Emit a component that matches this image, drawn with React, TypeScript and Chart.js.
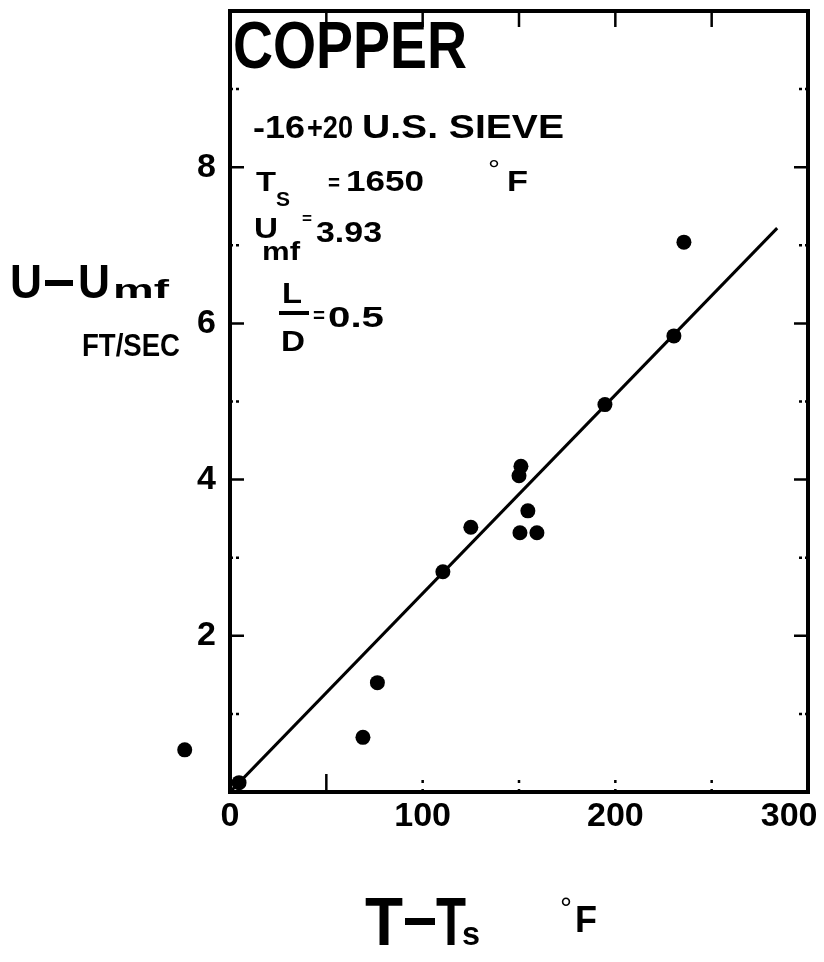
import React, { useEffect, useRef } from "react";
import { Chart, registerables } from "chart.js";

Chart.register(...registerables);

// ---- data ----
const xTickValues = [0, 100, 200, 300];
const yTickLabelValues = [2, 4, 6, 8];
const tempDiff = [-23.5, 4.7, 69, 76.5, 110.5, 125, 150, 151, 154.6, 150.5, 159.3, 194.6, 230.4, 235.6];
const velDiff = [0.54, 0.12, 0.7, 1.4, 2.82, 3.39, 4.05, 4.17, 3.6, 3.32, 3.32, 4.96, 5.84, 7.04];
const fitX = [0, 284];
const fitY = [0, 7.22];
const xMinorTicks = [50, 100, 150, 200, 250];
const yMinorTicks = [1, 2, 3, 4, 5, 6, 7, 8, 9];

const FONT = '"Liberation Sans", Arial, sans-serif';

function fitText(
  ctx: CanvasRenderingContext2D,
  text: string,
  x: number,
  baseline: number,
  size: number,
  width: number,
  weight = "bold"
) {
  ctx.save();
  ctx.font = `${weight} ${size}px ${FONT}`;
  ctx.textAlign = "left";
  ctx.textBaseline = "alphabetic";
  const w = ctx.measureText(text).width;
  ctx.translate(x, baseline);
  ctx.scale(width / w, 1);
  ctx.fillStyle = "#000";
  ctx.fillText(text, 0, 0);
  ctx.restore();
}

const framePlugin = {
  id: "frame",
  afterDatasetsDraw(chart: any) {
    const ctx: CanvasRenderingContext2D = chart.ctx;
    const { left, right, top, bottom } = chart.chartArea;
    const xs = chart.scales.x;
    const ys = chart.scales.y;
    // points lying outside the frame (Chart.js skips them by default)
    const meta = chart.getDatasetMeta(1);
    const whole = { left: -1000, top: -1000, right: 5000, bottom: 5000 };
    meta.data.forEach((el: any) => {
      if (el.x < left || el.x > right || el.y < top || el.y > bottom) el.draw(ctx, whole);
    });
    ctx.save();
    ctx.strokeStyle = "#000";
    ctx.lineWidth = 4;
    ctx.lineJoin = "miter";
    ctx.strokeRect(left, top, right - left, bottom - top);
    ctx.lineWidth = 2.5;
    yMinorTicks.forEach((v) => {
      const py = ys.getPixelForValue(v);
      const major = v % 2 === 0;
      const len = major ? 14 : 10;
      ctx.setLineDash(major ? [] : [3, 3]);
      ctx.beginPath();
      ctx.moveTo(left, py);
      ctx.lineTo(left + len, py);
      ctx.moveTo(right, py);
      ctx.lineTo(right - len, py);
      ctx.stroke();
    });
    xMinorTicks.forEach((v) => {
      const px = xs.getPixelForValue(v);
      ctx.setLineDash([]);
      ctx.beginPath();
      ctx.moveTo(px, top);
      ctx.lineTo(px, top + 16);
      ctx.stroke();
      ctx.setLineDash(v === 50 ? [] : [3, 6]);
      ctx.beginPath();
      ctx.moveTo(px, bottom);
      ctx.lineTo(px, bottom - 18);
      ctx.stroke();
    });
    ctx.restore();
  },
  afterDraw(chart: any) {
    const ctx: CanvasRenderingContext2D = chart.ctx;
    ctx.save();
    // annotation block
    fitText(ctx, "COPPER", 233, 68, 66, 234);
    fitText(ctx, "-16", 253, 138, 32, 52);
    fitText(ctx, "+20", 307, 138, 32, 46);
    fitText(ctx, "U.S. SIEVE", 362, 138, 34, 202);
    fitText(ctx, "T", 256, 191, 28, 20);
    fitText(ctx, "S", 276, 206, 20, 14);
    fitText(ctx, "=", 328, 190, 22, 12);
    fitText(ctx, "1650", 346, 191, 30, 78);
    fitText(ctx, "°", 488, 178, 26, 12, "normal");
    fitText(ctx, "F", 507, 191, 30, 21);
    fitText(ctx, "U", 254, 238, 30, 24);
    fitText(ctx, "mf", 262, 260, 26, 38);
    fitText(ctx, "=", 302, 224, 16, 10);
    fitText(ctx, "3.93", 316, 242, 30, 66);
    fitText(ctx, "L", 282, 303, 30, 20);
    ctx.fillRect(279, 311, 30, 4);
    fitText(ctx, "D", 281, 351, 30, 24);
    fitText(ctx, "=", 313, 322, 20, 12);
    fitText(ctx, "0.5", 328, 327, 30, 56);
    // y title
    fitText(ctx, "U", 10, 298, 48, 32);
    ctx.fillRect(45, 280, 28, 6);
    fitText(ctx, "U", 78, 298, 48, 32);
    fitText(ctx, "mf", 113, 298, 26, 56);
    fitText(ctx, "FT/SEC", 82, 356, 32, 98);
    // x title
    fitText(ctx, "T", 365, 945, 68, 38);
    ctx.fillRect(405, 918, 30, 7);
    fitText(ctx, "T", 436, 945, 68, 30);
    fitText(ctx, "s", 462, 945, 34, 18);
    fitText(ctx, "°", 560, 918, 30, 12, "normal");
    fitText(ctx, "F", 575, 932, 36, 22);
    ctx.restore();
  },
};

function zeroPad(s: any) {
  s.paddingTop = 0;
  s.paddingBottom = 0;
  s.paddingLeft = 0;
  s.paddingRight = 0;
}

export default function App() {
  const ref = useRef<HTMLCanvasElement | null>(null);
  useEffect(() => {
    if (!ref.current) return;
    const chart = new Chart(ref.current, {
      type: "scatter",
      data: {
        datasets: [
          {
            label: "fit",
            data: fitX.map((x, i) => ({ x, y: fitY[i] })),
            showLine: true,
            borderColor: "#000",
            borderWidth: 3,
            pointRadius: 0,
            fill: false,
          },
          {
            label: "data",
            data: tempDiff.map((x, i) => ({ x, y: velDiff[i] })),
            backgroundColor: "#000",
            borderColor: "#000",
            pointRadius: 7.5,
            borderWidth: 0,
            clip: false,
          } as any,
        ],
      },
      options: {
        responsive: false,
        devicePixelRatio: 1,
        animation: false,
        layout: { padding: { top: 11, right: 16, left: 0, bottom: 0 } },
        plugins: { legend: { display: false }, tooltip: { enabled: false }, title: { display: false } },
        scales: {
          x: {
            type: "linear",
            min: 0,
            max: 300,
            afterBuildTicks: (s: any) => {
              s.ticks = xTickValues.map((v) => ({ value: v }));
            },
            ticks: {
              color: "#000",
              font: { family: FONT, size: 34, weight: "bold" },
              padding: 4,
              maxRotation: 0,
              autoSkip: false,
              // the last label sits inside the page edge, as in the reference
              callback: (v: any) => (v === 300 ? "300    " : String(v)),
            },
            grid: { display: false, drawTicks: false },
            border: { display: false },
            afterFit: (s: any) => {
              s.height = 170;
              zeroPad(s);
            },
          },
          y: {
            type: "linear",
            min: 0,
            max: 10,
            afterBuildTicks: (s: any) => {
              s.ticks = yTickLabelValues.map((v) => ({ value: v }));
            },
            ticks: {
              color: "#000",
              font: { family: FONT, size: 34, weight: "bold" },
              padding: 14,
              autoSkip: false,
            },
            grid: { display: false, drawTicks: false },
            border: { display: false },
            afterFit: (s: any) => {
              s.width = 230;
              zeroPad(s);
            },
          },
        },
      },
      plugins: [framePlugin],
    });
    return () => chart.destroy();
  }, []);
  return (
    <div style={{ position: "absolute", left: 0, top: 0, width: 824, height: 962, background: "#fff" }}>
      <canvas ref={ref} width={824} height={962} style={{ display: "block" }} />
    </div>
  );
}
